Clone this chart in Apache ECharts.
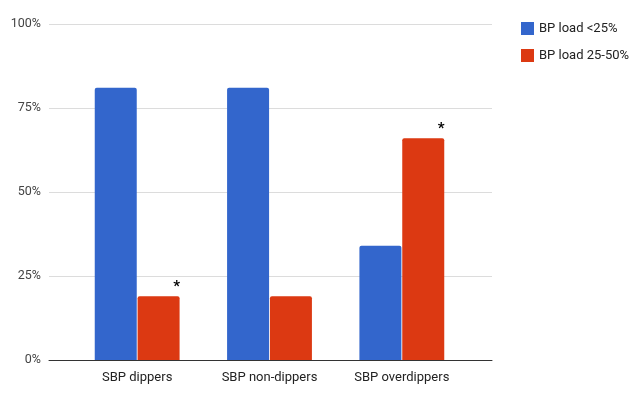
<!DOCTYPE html>
<html>
<head>
<meta charset="utf-8">
<script src="https://cdn.jsdelivr.net/npm/echarts@6/dist/echarts.min.js"></script>
<style>
html,body{margin:0;padding:0;background:#fff;}
#chart{width:640px;height:398px;}
</style>
</head>
<body>
<div id="chart"></div>
<script>
const categories = ['SBP dippers', 'SBP non-dippers', 'SBP overdippers'];
const seriesNames = ['BP load <25%', 'BP load 25-50%'];
const loadUnder25 = [81, 81, 34];
const load25to50 = [19, 19, 66];
const starMarks = ['*', '', '*'];
const yTicks = [0, 25, 50, 75, 100];

const chart = echarts.init(document.getElementById('chart'), null, {renderer: 'canvas'});
const font = 'Roboto, Arial, sans-serif';

const redData = load25to50.map((v, i) => ({
  value: v,
  label: {
    show: starMarks[i] !== '',
    formatter: starMarks[i],
    position: 'top',
    offset: [18, 4],
    fontSize: 15,
    fontWeight: 'bold',
    color: '#000',
    fontFamily: font
  }
}));

chart.setOption({
  animation: false,
  textStyle: {fontFamily: font},
  legend: {
    orient: 'vertical',
    left: 516,
    top: 17,
    itemWidth: 13,
    itemHeight: 13,
    itemGap: 14,
    icon: 'rect',
    textStyle: {fontSize: 13, color: '#222', fontFamily: font},
    data: seriesNames
  },
  grid: [
    {left: 49, right: 148, top: 24, bottom: 38},
    {left: 71, right: 172, top: 24, bottom: 38}
  ],
  xAxis: [
    {
      type: 'value', gridIndex: 0, min: 0, max: 1,
      axisLine: {show: true, onZero: false, lineStyle: {color: '#333', width: 1}},
      axisTick: {show: false}, axisLabel: {show: false}, splitLine: {show: false}
    },
    {
      type: 'category', gridIndex: 1, data: categories,
      axisLine: {show: false}, axisTick: {show: false},
      axisLabel: {color: '#222', fontSize: 13, margin: 11, fontFamily: font}
    }
  ],
  yAxis: [
    {
      type: 'value', gridIndex: 0, min: yTicks[0], max: yTicks[yTicks.length - 1], interval: 25,
      axisLine: {show: false}, axisTick: {show: false},
      axisLabel: {formatter: '{value}%', color: '#444', fontSize: 12.5, margin: 8, fontFamily: font},
      splitLine: {lineStyle: {color: '#dcdcdc'}}
    },
    {
      type: 'value', gridIndex: 1, min: yTicks[0], max: yTicks[yTicks.length - 1],
      show: false, splitLine: {show: false}
    }
  ],
  series: [
    {
      name: seriesNames[0], type: 'bar', xAxisIndex: 1, yAxisIndex: 1,
      data: loadUnder25, barWidth: 42, barGap: '2%',
      itemStyle: {color: '#3366cc', borderRadius: [2, 2, 0, 0]}
    },
    {
      name: seriesNames[1], type: 'bar', xAxisIndex: 1, yAxisIndex: 1,
      data: redData, barWidth: 42, barGap: '2%',
      itemStyle: {color: '#dc3912', borderRadius: [2, 2, 0, 0]}
    }
  ]
});
</script>
</body>
</html>
